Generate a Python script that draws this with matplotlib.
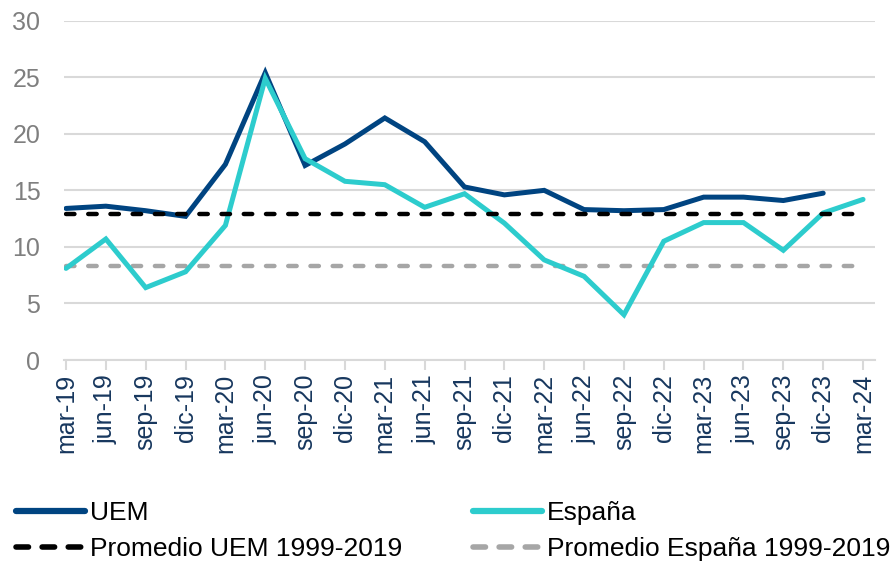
import matplotlib
matplotlib.use("Agg")
import matplotlib.pyplot as plt
from matplotlib.lines import Line2D

plt.rcParams['font.family'] = ['Liberation Sans', 'DejaVu Sans']

categories = ["mar-19", "jun-19", "sep-19", "dic-19", "mar-20", "jun-20", "sep-20",
              "dic-20", "mar-21", "jun-21", "sep-21", "dic-21", "mar-22", "jun-22",
              "sep-22", "dic-22", "mar-23", "jun-23", "sep-23", "dic-23", "mar-24"]
uem = [13.4, 13.6, 13.2, 12.7, 17.3, 25.4, 17.2, 19.1, 21.4, 19.3, 15.3, 14.6,
       15.0, 13.3, 13.2, 13.3, 14.4, 14.4, 14.1, 14.75, None]
espana = [8.1, 10.7, 6.4, 7.8, 11.9, 24.9, 17.8, 15.8, 15.5, 13.5, 14.7, 12.1,
          8.85, 7.4, 4.0, 10.5, 12.15, 12.15, 9.7, 13.0, 14.2]
prom_uem = 12.95
prom_esp = 8.35
yticks = [0, 5, 10, 15, 20, 25, 30]

C_UEM = '#004481'
C_ESP = '#2DCCCD'
C_PU = '#000000'
C_PE = '#A6A6A6'

W, H = 895, 562
fig = plt.figure(figsize=(W / 100, H / 100), dpi=100)
ax = fig.add_axes([64 / W, (H - 360) / H, (875 - 64) / W, (360 - 20.7) / H])

x = list(range(len(categories)))
xu = [i for i, v in zip(x, uem) if v is not None]
yu = [v for v in uem if v is not None]

lw = 3.6
ax.plot(x, [prom_esp] * len(x), color=C_PE, lw=3.2, dashes=(1.9, 3.1),
        dash_capstyle='round', zorder=3)
ax.plot(x, [prom_uem] * len(x), color=C_PU, lw=3.2, dashes=(1.9, 3.1),
        dash_capstyle='round', zorder=5)
ax.plot(xu, yu, color=C_UEM, lw=lw, solid_capstyle='round', solid_joinstyle='miter', zorder=4)
ax.plot(x, espana, color=C_ESP, lw=lw, solid_capstyle='round', solid_joinstyle='miter', zorder=4)

ax.set_ylim(0, 30)
ax.set_xlim(-0.05, 20.3)
ax.set_yticks(yticks)
ax.set_yticklabels([str(v) for v in yticks])
ax.set_xticks(x)
ax.set_xticklabels(categories, rotation=90)
ax.grid(axis='y', color='#D9D9D9', lw=1.5)
ax.set_axisbelow(True)
for s in ['top', 'right', 'left']:
    ax.spines[s].set_visible(False)
ax.spines['bottom'].set_color('#D9D9D9')
ax.spines['bottom'].set_linewidth(1.5)
ax.tick_params(axis='y', length=0, labelsize=18, labelcolor='#7F7F7F', pad=17)
ax.tick_params(axis='x', length=7, width=1.5, color='#D9D9D9', labelsize=18,
               labelcolor='#17375E', pad=3)

h_uem = Line2D([], [], color=C_UEM, lw=4.5, solid_capstyle='round')
h_pu = Line2D([], [], color=C_PU, lw=4, dashes=(2.25, 2.45), dash_capstyle='round')
h_esp = Line2D([], [], color=C_ESP, lw=4.5, solid_capstyle='round')
h_pe = Line2D([], [], color=C_PE, lw=4, dashes=(2.25, 2.45), dash_capstyle='round')

common = dict(frameon=False, fontsize=19, handlelength=2.6, handletextpad=0.2,
              labelspacing=0.45, borderpad=0, borderaxespad=0, loc='center left')
leg1 = fig.legend([h_uem, h_pu], ["UEM", "Promedio UEM 1999-2019"],
                  bbox_to_anchor=(16 / W, (H - 531) / H), **common)
leg2 = fig.legend([h_esp, h_pe], ["España", "Promedio España 1999-2019"],
                  bbox_to_anchor=(473 / W, (H - 531) / H), **common)

fig.savefig('out.png', dpi=100)
